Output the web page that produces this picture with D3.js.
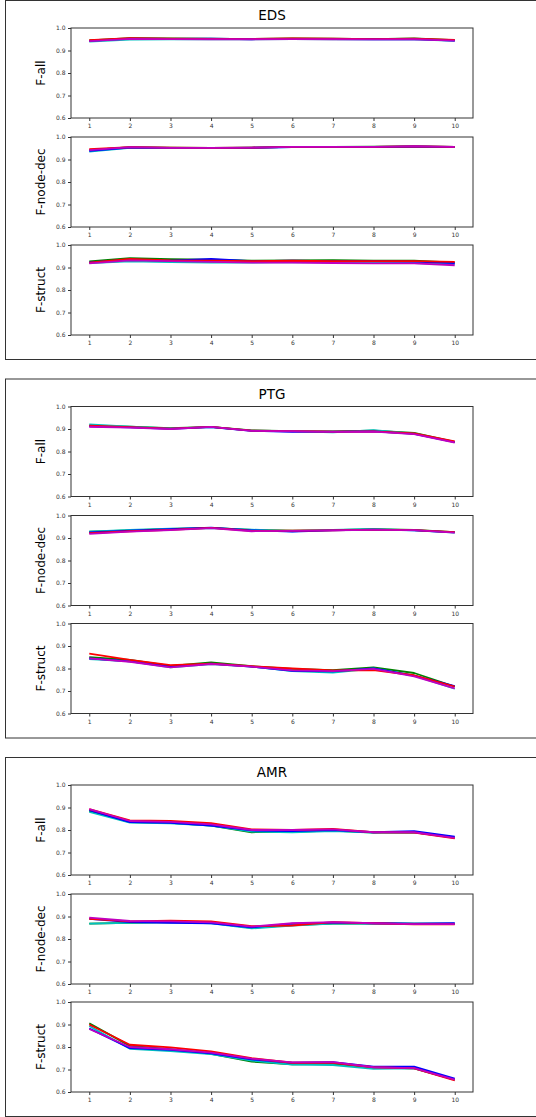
<!DOCTYPE html>
<html><head><meta charset="utf-8">
<script src="https://cdn.jsdelivr.net/npm/d3@7"></script>
<style>
body{margin:0;background:#fff;}
svg{display:block;font-family:"DejaVu Sans",sans-serif;}
</style></head>
<body><svg id="c" width="536" height="1117"></svg>
<script>
const xValues = [1,2,3,4,5,6,7,8,9,10];
const yTicks = [0.6,0.7,0.8,0.9,1.0];
const seriesNames = ["g","c","b","r","m"];
const seriesColors = ["#008000","#00bfbf","#0000ff","#ff0000","#c000c0"];
const datasets = ["EDS","PTG","AMR"];
const metrics = ["F-all","F-node-dec","F-struct"];

// rows: green, cyan, blue, red, magenta
const edsAll = [
 [0.945,0.955,0.954,0.953,0.951,0.954,0.953,0.951,0.954,0.946],
 [0.940,0.948,0.950,0.949,0.950,0.951,0.950,0.949,0.950,0.943],
 [0.943,0.953,0.952,0.953,0.950,0.952,0.951,0.950,0.951,0.944],
 [0.946,0.955,0.953,0.952,0.951,0.954,0.953,0.951,0.953,0.947],
 [0.942,0.952,0.951,0.950,0.950,0.951,0.950,0.949,0.950,0.944]
];
const edsNode = [
 [0.942,0.955,0.953,0.952,0.953,0.956,0.956,0.957,0.959,0.956],
 [0.935,0.952,0.952,0.951,0.953,0.955,0.955,0.955,0.957,0.955],
 [0.938,0.953,0.952,0.952,0.952,0.955,0.955,0.955,0.957,0.955],
 [0.946,0.955,0.953,0.952,0.953,0.956,0.956,0.956,0.958,0.956],
 [0.942,0.955,0.952,0.952,0.953,0.956,0.956,0.956,0.959,0.956]
];
const edsStruct = [
 [0.927,0.942,0.937,0.935,0.930,0.932,0.933,0.930,0.930,0.922],
 [0.920,0.927,0.924,0.922,0.922,0.924,0.922,0.920,0.920,0.915],
 [0.923,0.935,0.930,0.938,0.928,0.930,0.928,0.928,0.926,0.920],
 [0.922,0.938,0.932,0.930,0.928,0.930,0.928,0.928,0.928,0.925],
 [0.918,0.932,0.928,0.925,0.922,0.922,0.920,0.918,0.918,0.910]
];
const ptgAll = [
 [0.915,0.910,0.904,0.909,0.894,0.891,0.889,0.893,0.883,0.843],
 [0.920,0.910,0.903,0.908,0.893,0.890,0.885,0.895,0.879,0.842],
 [0.912,0.907,0.901,0.908,0.892,0.887,0.888,0.889,0.878,0.842],
 [0.915,0.908,0.902,0.909,0.893,0.891,0.888,0.889,0.880,0.845],
 [0.910,0.906,0.900,0.909,0.892,0.890,0.887,0.888,0.877,0.840]
];
const ptgNode = [
 [0.928,0.934,0.940,0.945,0.936,0.933,0.935,0.939,0.936,0.926],
 [0.928,0.936,0.942,0.944,0.937,0.930,0.936,0.940,0.934,0.924],
 [0.925,0.933,0.939,0.946,0.934,0.928,0.934,0.937,0.934,0.925],
 [0.922,0.930,0.936,0.945,0.932,0.933,0.934,0.937,0.935,0.926],
 [0.918,0.928,0.935,0.944,0.930,0.932,0.934,0.936,0.935,0.924]
];
const ptgStruct = [
 [0.850,0.838,0.812,0.827,0.810,0.798,0.793,0.805,0.780,0.720],
 [0.842,0.832,0.805,0.820,0.808,0.788,0.782,0.800,0.768,0.710],
 [0.845,0.832,0.808,0.822,0.808,0.790,0.787,0.800,0.768,0.722],
 [0.866,0.838,0.815,0.822,0.810,0.800,0.792,0.793,0.770,0.720],
 [0.845,0.830,0.805,0.820,0.808,0.792,0.788,0.798,0.765,0.712]
];
const amrAll = [
 [0.885,0.835,0.832,0.820,0.790,0.792,0.797,0.788,0.790,0.766],
 [0.880,0.833,0.830,0.820,0.793,0.790,0.795,0.788,0.790,0.767],
 [0.888,0.835,0.832,0.820,0.798,0.795,0.800,0.790,0.795,0.770],
 [0.893,0.843,0.840,0.830,0.803,0.800,0.805,0.790,0.788,0.763],
 [0.893,0.840,0.836,0.825,0.800,0.800,0.803,0.790,0.790,0.765]
];
const amrNode = [
 [0.868,0.872,0.875,0.872,0.850,0.862,0.868,0.870,0.868,0.868],
 [0.868,0.872,0.875,0.870,0.847,0.860,0.868,0.870,0.868,0.868],
 [0.890,0.875,0.872,0.870,0.852,0.868,0.873,0.870,0.868,0.870],
 [0.890,0.878,0.882,0.878,0.857,0.860,0.875,0.870,0.865,0.865],
 [0.895,0.880,0.878,0.874,0.855,0.870,0.875,0.870,0.866,0.866]
];
const amrStruct = [
 [0.905,0.805,0.790,0.770,0.735,0.723,0.725,0.708,0.705,0.655],
 [0.893,0.792,0.782,0.768,0.740,0.722,0.720,0.703,0.705,0.655],
 [0.882,0.795,0.787,0.772,0.745,0.730,0.733,0.713,0.713,0.660],
 [0.900,0.810,0.798,0.780,0.750,0.730,0.730,0.710,0.705,0.652],
 [0.880,0.800,0.790,0.775,0.748,0.732,0.733,0.710,0.706,0.655]
];
const panelData = [[edsAll,edsNode,edsStruct],[ptgAll,ptgNode,ptgStruct],[amrAll,amrNode,amrStruct]];

const svg = d3.select("#c");
const sectionTops = [0,378.5,757];
const boxHeight = 359;
const panelOffsets = [28,137,245];
const panelH = 90;
const left = 71, right = 473;

const x = d3.scaleLinear().domain([0.55,10.45]).range([left,right]);

datasets.forEach((ds,di)=>{
  const top = sectionTops[di];
  svg.append("rect").attr("x",5.5).attr("y",top+0.5).attr("width",560).attr("height",boxHeight)
    .attr("fill","none").attr("stroke","#333").attr("stroke-width",1);
  svg.append("text").attr("x",272).attr("y",top+20).attr("text-anchor","middle")
    .attr("font-size",13.5).attr("fill","#000").text(ds);
  metrics.forEach((m,mi)=>{
    const pt = top + panelOffsets[mi];
    const y = d3.scaleLinear().domain([0.6,1.0]).range([pt+panelH,pt]);
    const g = svg.append("g");
    const line = d3.line().x((d,i)=>x(xValues[i])).y(d=>y(d));
    panelData[di][mi].forEach((vals,si)=>{
      g.append("path").datum(vals).attr("d",line).attr("fill","none")
        .attr("stroke",seriesColors[si]).attr("stroke-width",1.8).attr("stroke-linejoin","round");
    });
    const xa = g.append("g").attr("transform",`translate(0,${pt+panelH})`)
      .call(d3.axisBottom(x).tickValues(xValues).tickFormat(d3.format("d")).tickSize(3).tickPadding(3));
    const ya = g.append("g").attr("transform",`translate(${left},0)`)
      .call(d3.axisLeft(y).tickValues(yTicks).tickFormat(d3.format(".1f")).tickSize(3).tickPadding(2.5));
    [xa,ya].forEach(a=>{
      a.select(".domain").remove();
      a.selectAll("line").attr("stroke","#333");
      a.selectAll("text").attr("font-size",6).attr("fill","#333").attr("font-family","DejaVu Sans, sans-serif");
    });
    g.append("rect").attr("x",left).attr("y",pt).attr("width",right-left).attr("height",panelH)
      .attr("fill","none").attr("stroke","#333").attr("stroke-width",1);
    svg.append("text").attr("transform",`translate(45,${pt+panelH/2}) rotate(-90)`)
      .attr("text-anchor","middle").attr("font-size",12).attr("fill","#000").text(m);
  });
});
</script></body></html>
